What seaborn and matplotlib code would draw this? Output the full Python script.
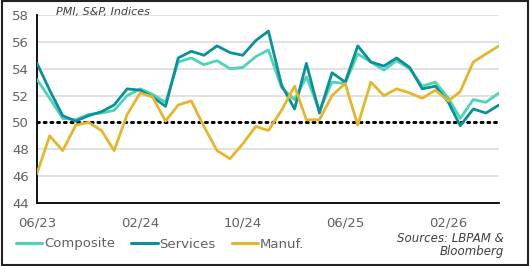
import numpy as np
import pandas as pd
import matplotlib
matplotlib.use("Agg")
import matplotlib.pyplot as plt
import matplotlib.dates as mdates
from matplotlib.patches import Rectangle
import seaborn as sns

# Monthly PMI readings, 06/23 -> 06/26
months = pd.date_range("2023-06-01", "2026-06-01", freq="MS")
composite = [53.2, 51.8, 50.3, 50.2, 50.6, 50.7, 50.9, 52.0, 52.5, 52.1, 51.5, 54.5, 54.8,
             54.3, 54.6, 54.0, 54.1, 54.9, 55.4, 52.6, 51.7, 53.4, 50.9, 53.0, 52.9, 55.1,
             54.5, 53.9, 54.6, 54.0, 52.7, 53.0, 51.8, 50.3, 51.7, 51.5, 52.2]
services = [54.4, 52.4, 50.5, 50.1, 50.5, 50.8, 51.3, 52.5, 52.4, 51.9, 51.2, 54.8, 55.3,
            55.0, 55.7, 55.2, 55.0, 56.1, 56.8, 52.8, 51.0, 54.4, 50.7, 53.7, 53.0, 55.7,
            54.5, 54.2, 54.8, 54.1, 52.5, 52.7, 51.5, 49.75, 51.0, 50.7, 51.3]
manuf = [46.2, 49.0, 47.9, 49.8, 50.0, 49.4, 47.9, 50.6, 52.2, 51.9, 50.1, 51.3, 51.6,
         49.7, 47.9, 47.3, 48.4, 49.7, 49.4, 50.9, 52.7, 50.2, 50.2, 52.0, 52.9, 49.8,
         53.0, 52.0, 52.5, 52.2, 51.8, 52.4, 51.6, 52.3, 54.5, 55.1, 55.7]
series_names = ["Composite", "Services", "Manuf."]
tick_dates = ["2023-06-01", "2024-02-01", "2024-10-01", "2025-06-01", "2026-02-01"]
y_ticks = [44, 46, 48, 50, 52, 54, 56, 58]

df = pd.DataFrame({"date": months, "Composite": composite,
                   "Services": services, "Manuf.": manuf})
long_df = df.melt(id_vars="date", var_name="series", value_name="value")

sns.set_style("white")
plt.rcParams["font.family"] = ["DejaVu Sans"]
grey = "#616161"
palette = {"Composite": "#4dd4b6", "Services": "#0a9098", "Manuf.": "#e6b62a"}

fig = plt.figure(figsize=(5.31, 2.66), dpi=100)
ax = fig.add_axes([37 / 531, 1 - 203 / 266, (499 - 37) / 531, (203 - 15) / 266])

for y in y_ticks:
    if y != 50:
        ax.axhline(y, color="#d9d9d9", lw=1.1, zorder=0)
# 50 threshold line
ax.axhline(50, color="black", lw=2.2, ls=(0, (0.6, 1.6)), dash_capstyle="round", zorder=1)

sns.lineplot(data=long_df, x="date", y="value", hue="series", hue_order=series_names,
             palette=palette, lw=2.0, ax=ax, legend=False, zorder=3)

ax.set_ylim(44, 58)
ax.set_xlim(months[0], months[-1])
ax.set_yticks(y_ticks)
ax.set_xticks(pd.to_datetime(tick_dates))
ax.xaxis.set_major_formatter(mdates.DateFormatter("%m/%y"))
ax.set_xlabel("")
ax.set_ylabel("")
for side in ["top", "right"]:
    ax.spines[side].set_visible(False)
for side in ["left", "bottom"]:
    ax.spines[side].set_color("black")
    ax.spines[side].set_linewidth(1.3)
ax.tick_params(axis="y", length=0, pad=6, labelsize=9.5, labelcolor=grey)
ax.tick_params(axis="x", length=3.5, width=1, color="black", direction="out",
               pad=6, labelsize=9.5, labelcolor=grey)

handles = [plt.Line2D([], [], color=palette[n], lw=2.2) for n in series_names]
fig.legend(handles, series_names, loc="center left", bbox_to_anchor=(16 / 531, 1 - 244 / 266),
           ncol=3, frameon=False, fontsize=9.5, labelcolor=grey, handlelength=2.0,
           handletextpad=0.15, columnspacing=1.2, borderpad=0, borderaxespad=0)

fig.text(56 / 531, 1 - 12 / 266, "PMI, S&P, Indices", fontsize=8, style="italic",
         color="#404040", va="center", ha="left")
fig.text(504 / 531, 1 - 245 / 266, "Sources: LBPAM &\nBloomberg", fontsize=8.5,
         style="italic", color="#404040", va="center", ha="right", multialignment="right",
         linespacing=1.1)

fig.patches.append(Rectangle((0.003, 0.005), 0.992, 0.99, transform=fig.transFigure,
                             fill=False, edgecolor="#222222", lw=1.5))

fig.savefig("out.png", dpi=100)
